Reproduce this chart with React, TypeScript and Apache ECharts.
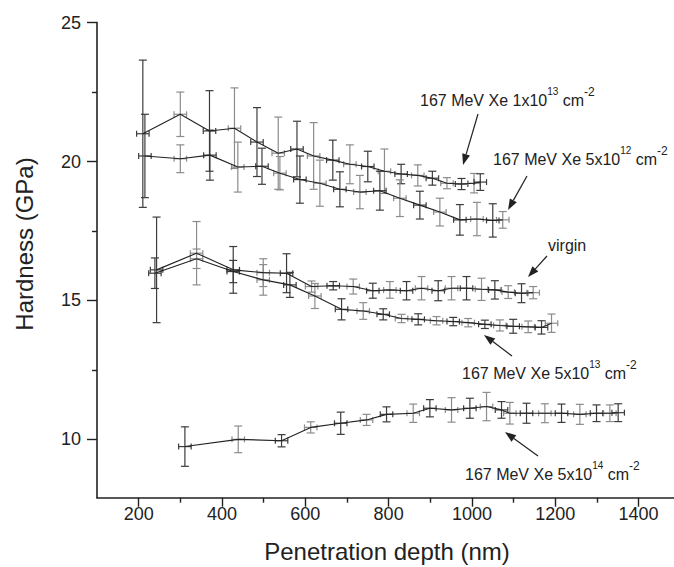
import React, { useEffect, useRef } from "react";
import * as echarts from "echarts";

const FF = "'Liberation Sans', Arial, sans-serif";
const INK = "#222";

// 167 MeV Xe 1x10^13 cm^-2
const depth1e13 = [210, 300, 370, 430, 484, 535, 580, 620, 666, 707, 750, 790, 830, 870, 905, 940, 975, 1005, 1020];
const hard1e13 = [21.0, 21.7, 21.1, 21.2, 20.7, 20.3, 20.45, 20.2, 20.05, 19.9, 19.82, 19.65, 19.55, 19.5, 19.4, 19.22, 19.19, 19.22, 19.26];
const err1e13 = [2.65, 0.8, 1.45, 1.45, 1.24, 1.3, 1.0, 1.2, 0.72, 0.7, 0.55, 0.8, 0.35, 0.38, 0.25, 0.2, 0.2, 0.35, 0.3];

// 167 MeV Xe 5x10^12 cm^-2
const depth5e12 = [215, 300, 371, 438, 496, 539, 587, 635, 683, 731, 779, 827, 875, 923, 971, 1012, 1050, 1074];
const hard5e12 = [20.2, 20.1, 20.23, 19.8, 19.83, 19.58, 19.35, 19.22, 19.0, 18.9, 18.95, 18.68, 18.43, 18.18, 17.9, 17.93, 17.88, 17.9];
const err5e12 = [1.5, 0.5, 0.9, 0.9, 0.65, 0.6, 0.85, 0.83, 0.63, 0.6, 0.7, 0.66, 0.5, 0.5, 0.55, 0.6, 0.6, 0.3];

// virgin
const depthVirgin = [243, 339, 427, 499, 555, 615, 667, 715, 762, 803, 843, 879, 919, 951, 987, 1023, 1055, 1087, 1119, 1147];
const hardVirgin = [16.1, 16.7, 16.1, 16.0, 15.98, 15.5, 15.53, 15.5, 15.35, 15.38, 15.35, 15.44, 15.35, 15.44, 15.44, 15.4, 15.38, 15.3, 15.26, 15.28];
const errVirgin = [1.9, 1.14, 0.84, 0.5, 0.7, 0.2, 0.15, 0.27, 0.27, 0.3, 0.33, 0.42, 0.36, 0.42, 0.42, 0.4, 0.33, 0.23, 0.34, 0.22];

// 167 MeV Xe 5x10^13 cm^-2
const depth5e13 = [239, 339, 427, 499, 563, 623, 687, 739, 787, 831, 871, 915, 955, 991, 1031, 1067, 1099, 1135, 1167, 1191];
const hard5e13 = [15.98, 16.5, 16.04, 15.74, 15.56, 15.16, 14.68, 14.62, 14.5, 14.35, 14.32, 14.27, 14.24, 14.2, 14.14, 14.1, 14.07, 14.05, 14.03, 14.18];
const err5e13 = [0.55, 0.35, 0.4, 0.55, 0.45, 0.45, 0.38, 0.3, 0.2, 0.15, 0.2, 0.15, 0.15, 0.15, 0.15, 0.2, 0.25, 0.21, 0.24, 0.33];

// 167 MeV Xe 5x10^14 cm^-2
const depth5e14 = [311, 439, 543, 613, 685, 747, 795, 859, 899, 951, 995, 1035, 1071, 1091, 1131, 1175, 1215, 1259, 1299, 1331, 1351];
const hard5e14 = [9.74, 10.0, 9.95, 10.43, 10.58, 10.7, 10.9, 10.94, 11.12, 11.06, 11.12, 11.18, 11.06, 10.94, 10.94, 10.94, 10.94, 10.9, 10.94, 10.94, 10.96];
const err5e14 = [0.71, 0.48, 0.22, 0.2, 0.4, 0.2, 0.27, 0.33, 0.31, 0.44, 0.36, 0.51, 0.3, 0.39, 0.36, 0.34, 0.33, 0.36, 0.3, 0.3, 0.32];

const depthErr = 15;

const xMajorTicks = [200, 400, 600, 800, 1000, 1200, 1400];
const xMinorTicks = [300, 500, 700, 900, 1100, 1300];
const yMajorTicks = [10, 15, 20, 25];
const yMinorTicks = [12.5, 17.5, 22.5];

const seriesList = [
  { name: "1x10^13", depth: depth1e13, hard: hard1e13, err: err1e13 },
  { name: "5x10^12", depth: depth5e12, hard: hard5e12, err: err5e12 },
  { name: "virgin", depth: depthVirgin, hard: hardVirgin, err: errVirgin },
  { name: "5x10^13", depth: depth5e13, hard: hard5e13, err: err5e13 },
  { name: "5x10^14", depth: depth5e14, hard: hard5e14, err: err5e14 },
];

const renderErr = (params: any, api: any) => {
  const x = api.value(0);
  const y = api.value(1);
  const ey = api.value(2);
  const ex = api.value(3);
  const t = api.coord([x, y + ey]);
  const b = api.coord([x, y - ey]);
  const l = api.coord([x - ex, y]);
  const r = api.coord([x + ex, y]);
  const c = params.dataIndex % 2 ? "#8c8c8c" : "#3c3c3c";
  const style = { stroke: c, lineWidth: 1.2, fill: "none" };
  const cap = 4;
  const hcap = 3;
  return {
    type: "group",
    children: [
      { type: "line", shape: { x1: t[0], y1: t[1], x2: b[0], y2: b[1] }, style },
      { type: "line", shape: { x1: t[0] - cap, y1: t[1], x2: t[0] + cap, y2: t[1] }, style },
      { type: "line", shape: { x1: b[0] - cap, y1: b[1], x2: b[0] + cap, y2: b[1] }, style },
      { type: "line", shape: { x1: l[0], y1: l[1], x2: r[0], y2: r[1] }, style },
      { type: "line", shape: { x1: l[0], y1: l[1] - hcap, x2: l[0], y2: l[1] + hcap }, style },
      { type: "line", shape: { x1: r[0], y1: r[1] - hcap, x2: r[0], y2: r[1] + hcap }, style },
    ],
  };
};

function arrow(x1: number, y1: number, x2: number, y2: number) {
  const dx = x2 - x1;
  const dy = y2 - y1;
  const L = Math.hypot(dx, dy);
  const ux = dx / L;
  const uy = dy / L;
  const hl = 11;
  const hw = 4;
  const bx = x2 - ux * hl;
  const by = y2 - uy * hl;
  return [
    { type: "line", silent: true, shape: { x1, y1, x2: bx, y2: by }, style: { stroke: INK, lineWidth: 1.2 } },
    {
      type: "polygon",
      silent: true,
      shape: { points: [[x2, y2], [bx - uy * hw, by + ux * hw], [bx + uy * hw, by - ux * hw]] },
      style: { fill: INK },
    },
  ];
}

const rich = {
  a: { fontSize: 16, fontFamily: FF, fill: INK, lineHeight: 22, verticalAlign: "bottom" },
  s: { fontSize: 10, fontFamily: FF, fill: INK, lineHeight: 22, verticalAlign: "top" },
  m: { fontSize: 12, fontFamily: FF, fill: INK, lineHeight: 22, verticalAlign: "top" },
};

function label(x: number, y: number, text: string) {
  return {
    type: "text",
    silent: true,
    x,
    y,
    style: { text, rich, align: "left", verticalAlign: "middle", fill: INK },
  };
}

const annotations = [
  { x: 420, y: 97, text: "{a|167 MeV Xe 1x10}{s|13}{a| cm}{m|-2}", arrow: [478, 114, 463, 165] },
  { x: 493, y: 156, text: "{a|167 MeV Xe 5x10}{s|12}{a| cm}{m|-2}", arrow: [527, 176, 508, 210] },
  { x: 548, y: 242, text: "{a|virgin}", arrow: [547, 256, 528, 277] },
  { x: 462, y: 370, text: "{a|167 MeV Xe 5x10}{s|13}{a| cm}{m|-2}", arrow: [512, 356, 484, 335] },
  { x: 465, y: 471, text: "{a|167 MeV Xe 5x10}{s|14}{a| cm}{m|-2}", arrow: [538, 456, 505, 432] },
];

const plain = (v: number) => String(v);

export default function App() {
  const ref = useRef<HTMLDivElement>(null);
  useEffect(() => {
    document.body.style.margin = "0";
    if (!ref.current) return;
    const chart = echarts.init(ref.current, null, { renderer: "svg" });

    const series: any[] = [];
    seriesList.forEach((s) => {
      series.push({
        type: "custom",
        name: s.name + " err",
        renderItem: renderErr,
        encode: { x: 0, y: 1 },
        data: s.depth.map((d, i) => [d, s.hard[i], s.err[i], depthErr]),
        z: 2,
        silent: true,
      });
      series.push({
        type: "line",
        name: s.name,
        data: s.depth.map((d, i) => [d, s.hard[i]]),
        symbol: "none",
        lineStyle: { color: INK, width: 1.1 },
        z: 3,
        silent: true,
      });
    });

    const graphics: any[] = [
      {
        type: "text",
        silent: true,
        x: 24,
        y: 244,
        rotation: Math.PI / 2,
        style: { text: "Hardness (GPa)", fontSize: 24, fontFamily: FF, fill: INK, align: "center", verticalAlign: "middle" },
      },
      {
        type: "text",
        silent: true,
        x: 387,
        y: 551,
        style: { text: "Penetration depth (nm)", fontSize: 24, fontFamily: FF, fill: INK, align: "center", verticalAlign: "middle" },
      },
    ];
    annotations.forEach((a) => {
      graphics.push(label(a.x, a.y, a.text));
      graphics.push(...arrow(a.arrow[0], a.arrow[1], a.arrow[2], a.arrow[3]));
    });

    chart.setOption({
      animation: false,
      backgroundColor: "#fff",
      grid: { left: 97, right: 0, top: 22.6, bottom: 69.3, containLabel: false },
      xAxis: [
        {
          type: "value",
          min: 100,
          max: 1485,
          axisLine: { show: true, lineStyle: { color: INK, width: 1.6 } },
          axisTick: { show: true, length: 9, customValues: xMajorTicks, lineStyle: { color: INK, width: 1.4 } },
          axisLabel: { customValues: xMajorTicks, formatter: plain, fontSize: 18, fontFamily: FF, color: INK, margin: 7 },
          splitLine: { show: false },
        },
        {
          type: "value",
          min: 100,
          max: 1485,
          position: "bottom",
          axisLine: { show: false },
          axisTick: { show: true, length: 5, customValues: xMinorTicks, lineStyle: { color: INK, width: 1.4 } },
          axisLabel: { show: false },
          splitLine: { show: false },
        },
      ],
      yAxis: [
        {
          type: "value",
          min: 7.9,
          max: 25,
          axisLine: { show: true, lineStyle: { color: INK, width: 1.6 } },
          axisTick: { show: true, length: 10, customValues: yMajorTicks, lineStyle: { color: INK, width: 1.4 } },
          axisLabel: { customValues: yMajorTicks, formatter: plain, fontSize: 18, fontFamily: FF, color: INK, margin: 16 },
          splitLine: { show: false },
        },
        {
          type: "value",
          min: 7.9,
          max: 25,
          position: "left",
          axisLine: { show: false },
          axisTick: { show: true, length: 5, customValues: yMinorTicks, lineStyle: { color: INK, width: 1.4 } },
          axisLabel: { show: false },
          splitLine: { show: false },
        },
      ],
      series,
      graphic: graphics,
    });
    return () => chart.dispose();
  }, []);
  return <div ref={ref} style={{ width: 674, height: 567 }} />;
}
